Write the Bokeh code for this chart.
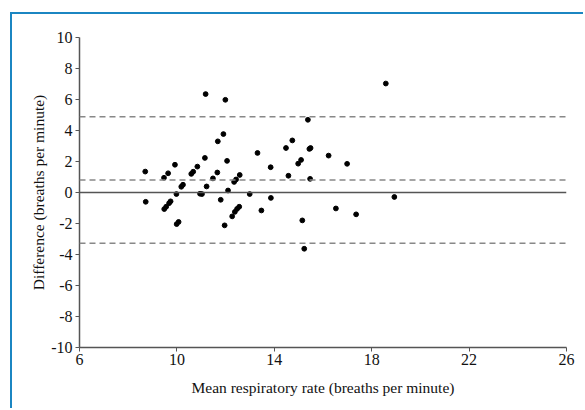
from bokeh.plotting import figure
from bokeh.models import Range1d, FixedTicker, Span
from bokeh.embed import file_html
from bokeh.resources import INLINE

# Bland-Altman data
mean_rate = [8.70, 8.72, 9.47, 9.64, 9.92, 9.48, 9.56, 9.68, 9.74, 9.98,
             9.99, 10.07, 10.18, 10.25, 10.59, 10.67, 10.84, 10.95, 11.03, 11.15,
             11.18, 11.22, 11.48, 11.68, 11.66, 11.80, 11.91, 11.99, 12.06, 12.10,
             11.96, 12.27, 12.38, 12.47, 12.56, 12.35, 12.43, 12.58, 12.99, 13.31,
             13.47, 13.85, 13.86, 14.48, 14.74, 14.58, 14.98, 15.10, 15.38, 15.44,
             15.49, 15.47, 15.15, 15.23, 16.23, 16.53, 16.99, 17.36, 18.58, 18.93]
difference = [1.35, -0.60, 0.95, 1.24, 1.79, -1.07, -0.92, -0.69, -0.57, -0.10,
              -2.04, -1.90, 0.37, 0.50, 1.20, 1.34, 1.67, -0.08, -0.10, 2.23,
              6.35, 0.39, 0.91, 3.30, 1.29, -0.47, 3.77, 5.98, 2.04, 0.13,
              -2.12, -1.54, -1.25, -1.06, -0.92, 0.68, 0.84, 1.13, -0.10, 2.55,
              -1.16, 1.63, -0.35, 2.87, 3.36, 1.08, 1.86, 2.10, 4.69, 2.81,
              2.87, 0.88, -1.80, -3.63, 2.38, -1.03, 1.85, -1.41, 7.03, -0.29]

mean_bias = 0.8
upper_loa = 4.89
lower_loa = -3.28

x_ticks = [6, 10, 14, 18, 22, 26]
y_ticks = [-10, -8, -6, -4, -2, 0, 2, 4, 6, 8, 10]

FONT = "Liberation Serif"

p = figure(width=573, height=396, output_backend="svg", toolbar_location=None,
           x_range=Range1d(6, 26), y_range=Range1d(-10, 10),
           min_border_left=67, min_border_right=19, min_border_top=23, min_border_bottom=63)
p.styles = {"border-top": "2px solid #1b86c2", "border-left": "2px solid #1b86c2",
            "margin-left": "10px", "margin-top": "12px"}

p.outline_line_color = None
p.xgrid.grid_line_color = None
p.ygrid.grid_line_color = None
p.background_fill_color = "white"
p.border_fill_color = "white"

p.xaxis.ticker = FixedTicker(ticks=x_ticks)
p.yaxis.ticker = FixedTicker(ticks=y_ticks)
p.xaxis.major_label_overrides = {t: str(t) for t in x_ticks}
p.yaxis.major_label_overrides = {t: str(t) for t in y_ticks}

for ax in (p.xaxis[0], p.yaxis[0]):
    ax.axis_line_color = "#555555"
    ax.axis_line_width = 1.5
    ax.major_tick_line_color = "#555555"
    ax.major_tick_in = 0
    ax.major_tick_out = 4
    ax.minor_tick_line_color = None
    ax.major_label_text_font = FONT
    ax.major_label_text_font_size = "16px"
    ax.major_label_text_color = "#111111"
    ax.axis_label_text_font = FONT
    ax.axis_label_text_font_size = "15.5px"
    ax.axis_label_text_font_style = "normal"
    ax.axis_label_text_color = "#111111"

p.xaxis.axis_label = "Mean respiratory rate (breaths per minute)"
p.yaxis.axis_label = "Difference (breaths per minute)"
p.xaxis.major_label_standoff = 2
p.xaxis.axis_label_standoff = 11
p.yaxis.major_label_standoff = 3
p.yaxis.axis_label_standoff = 1

p.add_layout(Span(location=0, dimension="width", line_color="#555555", line_width=1.3))
for loc in (mean_bias, upper_loa, lower_loa):
    p.add_layout(Span(location=loc, dimension="width", line_color="#888888",
                      line_width=1.5, line_dash="6 4"))

p.scatter(mean_rate, difference, size=4.8, color="black")

open("out.html", "w").write(file_html(p, INLINE))
